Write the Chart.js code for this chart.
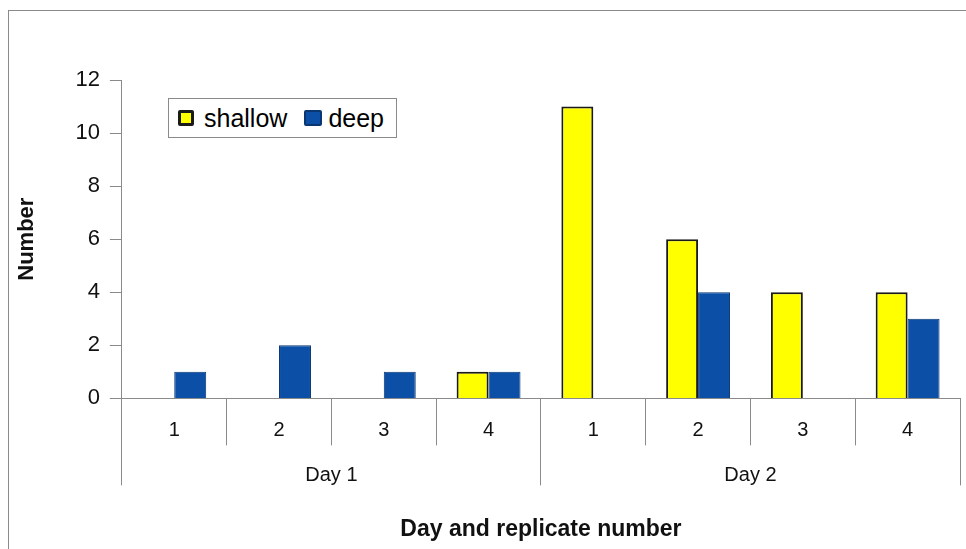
<!DOCTYPE html>
<html>
<head>
<meta charset="utf-8">
<script src="https://cdn.jsdelivr.net/npm/chart.js@4.4.0/dist/chart.umd.min.js"></script>
<style>
  body { margin: 0; background: #fff; overflow: hidden; font-family: "Liberation Sans", Arial, sans-serif; }
  #wrap { position: relative; width: 966px; height: 549px; }
  #frame { position: absolute; left: 8px; top: 10px; width: 1000px; height: 600px; border: 1px solid #8a8a8a; pointer-events: none; }
  #legend { position: absolute; left: 168px; top: 98px; height: 38px; padding: 0 12px 0 9px; border: 1px solid #8a8a8a;
    background: #fff; display: flex; align-items: center; font-size: 25px; color: #000; }
  #legend span.box { display: inline-block; width: 10px; height: 10px; margin-right: 10px; border-radius: 2px; }
  #legend span.box.b1 { width: 14px; height: 12px; margin-right: 6px; }
  #legend span.lbl { margin-right: 17px; }
  #legend span.lbl:last-child { margin-right: 0; }
</style>
</head>
<body>
<div id="wrap">
  <canvas id="grafica" width="966" height="549"></canvas>
  <div id="frame"></div>
  <div id="legend"></div>
</div>
<script>
const replicas = ["1", "2", "3", "4", "1", "2", "3", "4"];
const dias = ["Day 1", "Day 2"];
const shallow = [0, 0, 0, 1, 11, 6, 4, 4];
const deep = [1, 2, 1, 1, 0, 4, 0, 3];
const yTicks = [0, 2, 4, 6, 8, 10, 12];

const fuente = "'Liberation Sans', Arial, sans-serif";
const gris = "#8a8a8a";

const crearGrafico = () => {
    let contexto = document.getElementById("grafica").getContext("2d");
    return new Chart(contexto, {
        type: "bar",
        data: {
            labels: replicas,
            datasets: [{
                label: "shallow",
                data: shallow,
                backgroundColor: "#ffff00",
                borderColor: "#1a1a1a",
                borderWidth: 2,
                barPercentage: 1,
                categoryPercentage: 0.61,
            }, {
                label: "deep",
                data: deep,
                backgroundColor: "#0b4fa6",
                borderColor: "#0a3672",
                borderWidth: 1,
                barPercentage: 1,
                categoryPercentage: 0.61,
            }],
        },
        options: {
            responsive: false,
            animation: false,
            layout: { padding: { top: 80, right: 6, bottom: 6, left: 14 } },
            plugins: { legend: { display: false }, tooltip: { enabled: false } },
            scales: {
                x: {
                    position: "bottom",
                    grid: { offset: true, drawOnChartArea: false, tickLength: 47, color: gris },
                    border: { color: gris },
                    ticks: { padding: -27, color: "#111", font: { family: fuente, size: 20 } },
                    // la caja del eje solo cubre las marcas, las etiquetas van entre ellas
                    afterFit: (eje) => { eje.height = 47; },
                },
                x2: {
                    type: "category",
                    labels: dias,
                    position: "bottom",
                    grid: { offset: true, drawOnChartArea: false, tickLength: 40, color: gris },
                    border: { display: false },
                    ticks: { padding: -22, color: "#111", font: { family: fuente, size: 20 } },
                    title: {
                        display: true,
                        text: "Day and replicate number",
                        color: "#111",
                        padding: { top: 50, bottom: 0 },
                        font: { family: fuente, size: 23, weight: "bold" },
                    },
                },
                y: {
                    min: 0,
                    max: 12,
                    afterBuildTicks: (eje) => { eje.ticks = yTicks.map((v) => ({ value: v })); },
                    grid: { drawOnChartArea: false, tickLength: 12, color: gris },
                    border: { color: gris },
                    ticks: { padding: 10, color: "#111", font: { family: fuente, size: 22 } },
                    title: {
                        display: true,
                        text: "Number",
                        color: "#111",
                        padding: { top: 0, bottom: 25 },
                        font: { family: fuente, size: 22, weight: "bold" },
                    },
                },
            },
        },
    });
};

const grafico = crearGrafico();

// leyenda en html, a partir de los datasets
const leyenda = document.getElementById("legend");
grafico.data.datasets.forEach((ds, i) => {
    let caja = document.createElement("span");
    caja.className = "box b" + i;
    caja.style.background = ds.backgroundColor;
    caja.style.border = (ds.borderWidth + 1) + "px solid " + ds.borderColor;
    leyenda.appendChild(caja);
    let texto = document.createElement("span");
    texto.className = "lbl";
    texto.innerText = ds.label;
    leyenda.appendChild(texto);
});
</script>
</body>
</html>
